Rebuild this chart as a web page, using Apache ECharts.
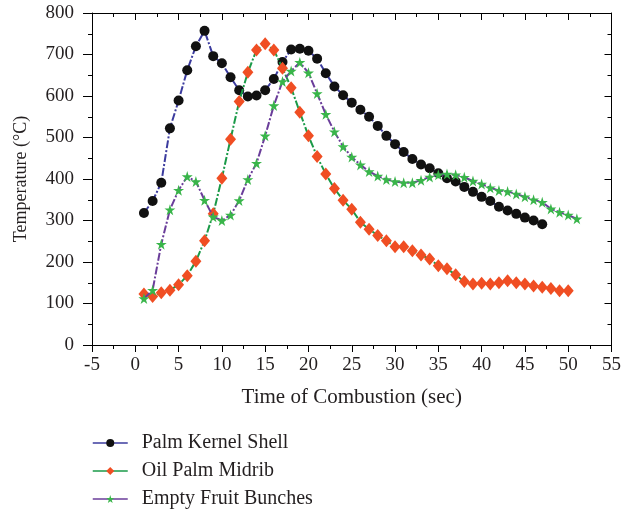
<!DOCTYPE html>
<html>
<head>
<meta charset="utf-8">
<script src="https://cdn.jsdelivr.net/npm/echarts@6/dist/echarts.min.js"></script>
<style>
html,body{margin:0;padding:0;background:#fff;}
#main{width:624px;height:510px;}
</style>
</head>
<body>
<div id="main"></div>
<script>
const seriesNames = ['Palm Kernel Shell', 'Oil Palm Midrib', 'Empty Fruit Bunches'];

const pksTime = [1,2,3,4,5,6,7,8,9,10,11,12,13,14,15,16,17,18,19,20,21,22,23,24,25,26,27,28,29,30,31,32,33,34,35,36,37,38,39,40,41,42,43,44,45,46,47];
const pksTemp = [318,347,391,522,589,662,720,757,696,679,645,614,599,601,614,641,682,712,714,709,690,655,623,602,584,567,550,528,504,484,465,448,435,426,414,402,394,381,369,357,347,333,324,316,307,300,291];

const opmTime = [1,2,3,4,5,6,7,8,9,10,11,12,13,14,15,16,17,18,19,20,21,22,23,24,25,26,27,28,29,30,31,32,33,34,35,36,37,38,39,40,41,42,43,44,45,46,47,48,49,50];
const opmTemp = [123,117,126,132,145,167,202,251,316,402,496,587,657,711,726,711,667,620,561,504,454,412,377,349,327,296,279,264,251,237,237,227,217,207,191,184,169,153,147,149,147,150,155,150,147,142,139,136,131,131];

const efbTime = [1,2,3,4,5,6,7,8,9,10,11,12,13,14,15,16,17,18,19,20,21,22,23,24,25,26,27,28,29,30,31,32,33,34,35,36,37,38,39,40,41,42,43,44,45,46,47,48,49,50,51];
const efbTemp = [112,132,243,326,373,406,394,349,309,300,313,348,399,438,504,577,635,660,681,656,606,556,514,478,453,434,418,407,399,394,391,391,397,405,410,412,410,404,395,388,379,372,370,364,357,350,344,328,320,313,304];

const xTicks = { min: -5, max: 55, step: 5 };
const yTicks = { min: 0, max: 800, step: 100 };

function pairs(xs, ys) { return xs.map((x, i) => [x, ys[i]]); }

const FONT = '"Liberation Serif", "DejaVu Serif", serif';
const TXT = '#231f20';
const starPath = 'path://M50,0 L61,35 L98,35 L68,57 L79,91 L50,70 L21,91 L32,57 L2,35 L39,35 Z';

const chart = echarts.init(document.getElementById('main'), null, { renderer: 'canvas' });

const axisCommon = {
  axisLine: { show: true, onZero: false, lineStyle: { color: '#000', width: 1 } },
  splitLine: { show: false },
  minorTick: { show: true, splitNumber: 2, length: 4, lineStyle: { color: '#000' } }
};

chart.setOption({
  animation: false,
  backgroundColor: '#fff',
  grid: { left: 92, right: 9, top: 13, bottom: 165, containLabel: false },
  legend: {
    data: seriesNames,
    orient: 'vertical',
    left: 92,
    top: 433,
    padding: 0,
    itemWidth: 35,
    itemHeight: 10,
    itemGap: 8,
    lineStyle: { type: 'solid', width: 1.5 },
    textStyle: { fontFamily: FONT, fontSize: 20, lineHeight: 19, color: TXT, padding: [0, 0, 0, 9] }
  },
  xAxis: [
    Object.assign({}, axisCommon, {
      type: 'value', min: xTicks.min, max: xTicks.max, interval: xTicks.step,
      position: 'bottom',
      name: 'Time of Combustion (sec)', nameLocation: 'middle', nameGap: 42,
      nameTextStyle: { fontFamily: FONT, fontSize: 21, color: TXT },
      axisTick: { show: true, inside: false, length: 7, lineStyle: { color: '#000' } },
      axisLabel: { fontFamily: FONT, fontSize: 19, color: TXT, margin: 11 }
    }),
    Object.assign({}, axisCommon, {
      type: 'value', min: xTicks.min, max: xTicks.max, interval: xTicks.step,
      position: 'top',
      axisTick: { show: true, inside: true, length: 7, lineStyle: { color: '#000' } },
      minorTick: { show: true, splitNumber: 2, length: 4, lineStyle: { color: '#000' } },
      axisLabel: { show: false }
    })
  ],
  yAxis: [
    Object.assign({}, axisCommon, {
      type: 'value', min: yTicks.min, max: yTicks.max, interval: yTicks.step,
      position: 'left',
      name: 'Temperature (°C)', nameLocation: 'middle', nameGap: 62, nameRotate: 90,
      nameTextStyle: { fontFamily: FONT, fontSize: 18, color: TXT },
      axisTick: { show: true, inside: false, length: 9, lineStyle: { color: '#000' } },
      axisLabel: { fontFamily: FONT, fontSize: 19, color: TXT, margin: 18 }
    }),
    Object.assign({}, axisCommon, {
      type: 'value', min: yTicks.min, max: yTicks.max, interval: yTicks.step,
      position: 'right',
      axisTick: { show: true, inside: true, length: 7, lineStyle: { color: '#000' } },
      axisLabel: { show: false }
    })
  ],
  series: [
    {
      name: seriesNames[0], type: 'line', xAxisIndex: 0, yAxisIndex: 0,
      data: pairs(pksTime, pksTemp),
      symbol: 'circle', symbolSize: 10,
      itemStyle: { color: '#111111' },
      lineStyle: { color: '#3b3b9e', width: 2, type: [8, 2, 2, 2] },
      z: 3
    },
    {
      name: seriesNames[1], type: 'line', xAxisIndex: 0, yAxisIndex: 0,
      data: pairs(opmTime, opmTemp),
      symbol: 'diamond', symbolSize: [11, 13],
      itemStyle: { color: '#f04e23' },
      lineStyle: { color: '#1a9a48', width: 2, type: [8, 2, 2, 2] },
      z: 4
    },
    {
      name: seriesNames[2], type: 'line', xAxisIndex: 0, yAxisIndex: 0,
      data: pairs(efbTime, efbTemp),
      symbol: starPath, symbolSize: 11,
      itemStyle: { color: '#39b54a' },
      lineStyle: { color: '#6a3d9a', width: 2, type: [8, 2, 2, 2] },
      z: 5
    }
  ]
});
</script>
</body>
</html>
